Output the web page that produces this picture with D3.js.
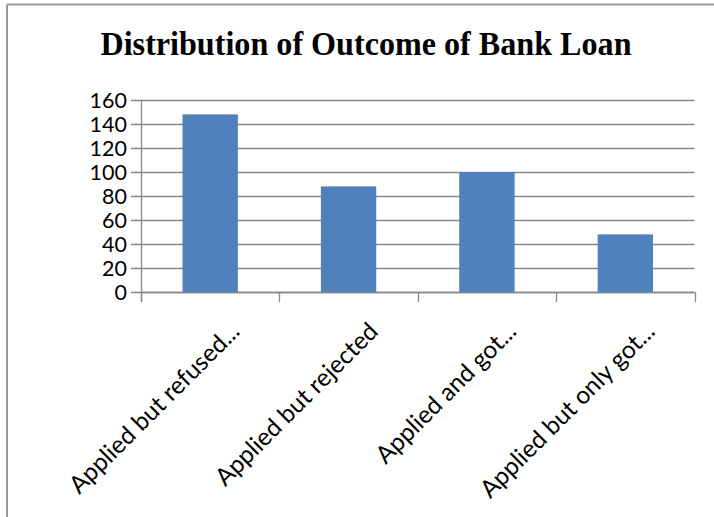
<!DOCTYPE html>
<html>
<head>
<meta charset="utf-8">
<script src="https://cdn.jsdelivr.net/npm/d3@7"></script>
<style>
  html, body { margin: 0; padding: 0; background: #fff; }
  svg { display: block; }
</style>
</head>
<body>
<svg id="chart" width="714" height="517"></svg>
<script>
// Loan outcome categories and respondent counts
const categories = [
  "Applied but refused...",
  "Applied but rejected",
  "Applied and got...",
  "Applied but only got..."
];
const counts = [148, 88, 100, 48];
const yTicks = [0, 20, 40, 60, 80, 100, 120, 140, 160];
const chartTitle = "Distribution of Outcome of Bank Loan";

const svg = d3.select("#chart");
const W = 714, H = 517;
const plot = { left: 141, right: 694.5, top: 100, bottom: 292 };
const gridColor = "#878787";
const barColor = "#4F81BD";

// Frame (top and left edges visible)
svg.append("line").attr("x1", 7).attr("x2", W).attr("y1", 4.5).attr("y2", 4.5)
  .attr("stroke", "#9a9a9a").attr("stroke-width", 2);
svg.append("line").attr("x1", 7).attr("x2", 7).attr("y1", 4.5).attr("y2", H)
  .attr("stroke", "#9a9a9a").attr("stroke-width", 2);

// Title
svg.append("text")
  .attr("x", 366).attr("y", 55)
  .attr("text-anchor", "middle")
  .attr("font-family", "'Liberation Serif', 'Times New Roman', serif")
  .attr("font-weight", "bold")
  .attr("font-size", 33.5)
  .attr("textLength", 531)
  .attr("lengthAdjust", "spacingAndGlyphs")
  .attr("fill", "#000")
  .text(chartTitle);

const x = d3.scaleBand()
  .domain(categories)
  .range([plot.left, plot.right])
  .paddingInner(0.6)
  .paddingOuter(0.3);

const y = d3.scaleLinear()
  .domain([0, 160])
  .range([plot.bottom, plot.top]);

// Horizontal gridlines
svg.append("g")
  .selectAll("line")
  .data(yTicks)
  .join("line")
  .attr("x1", plot.left - 10)
  .attr("x2", plot.right)
  .attr("y1", d => Math.round(y(d)) + 0.5)
  .attr("y2", d => Math.round(y(d)) + 0.5)
  .attr("stroke", gridColor)
  .attr("stroke-width", 1.3);

// Y axis labels
svg.append("g")
  .selectAll("text")
  .data(yTicks)
  .join("text")
  .attr("x", 127)
  .attr("y", d => y(d))
  .attr("dy", "0.36em")
  .attr("text-anchor", "end")
  .attr("font-family", "Lato, 'Open Sans', sans-serif")
  .attr("font-size", 21.5)
  .attr("fill", "#000")
  .text(d => d);

// Bars
svg.append("g")
  .selectAll("rect")
  .data(counts)
  .join("rect")
  .attr("x", (d, i) => x(categories[i]))
  .attr("width", x.bandwidth())
  .attr("y", d => y(d))
  .attr("height", d => y(0) - y(d))
  .attr("fill", barColor);

// Category axis with boundary ticks
const step = (plot.right - plot.left) / categories.length;
const bounds = d3.range(categories.length + 1).map(i => plot.left + i * step);
svg.append("line")
  .attr("x1", plot.left).attr("x2", plot.right)
  .attr("y1", Math.round(y(0)) + 0.5).attr("y2", Math.round(y(0)) + 0.5)
  .attr("stroke", gridColor).attr("stroke-width", 1.3);
svg.append("line")
  .attr("x1", plot.left + 0.5).attr("x2", plot.left + 0.5)
  .attr("y1", plot.top).attr("y2", plot.bottom + 10)
  .attr("stroke", gridColor).attr("stroke-width", 1.3);
svg.append("g")
  .selectAll("line")
  .data(bounds)
  .join("line")
  .attr("x1", d => Math.round(d) + 0.5)
  .attr("x2", d => Math.round(d) + 0.5)
  .attr("y1", plot.bottom)
  .attr("y2", plot.bottom + 10)
  .attr("stroke", gridColor)
  .attr("stroke-width", 1.3);

// Rotated category labels
svg.append("g")
  .selectAll("text")
  .data(categories)
  .join("text")
  .attr("transform", d => `translate(${x(d) + x.bandwidth() / 2 + 31},${plot.bottom + 41}) rotate(-45)`)
  .attr("text-anchor", "end")
  .attr("font-family", "Lato, 'Open Sans', sans-serif")
  .attr("font-size", 24.5)
  .attr("fill", "#000")
  .text(d => d);
</script>
</body>
</html>
